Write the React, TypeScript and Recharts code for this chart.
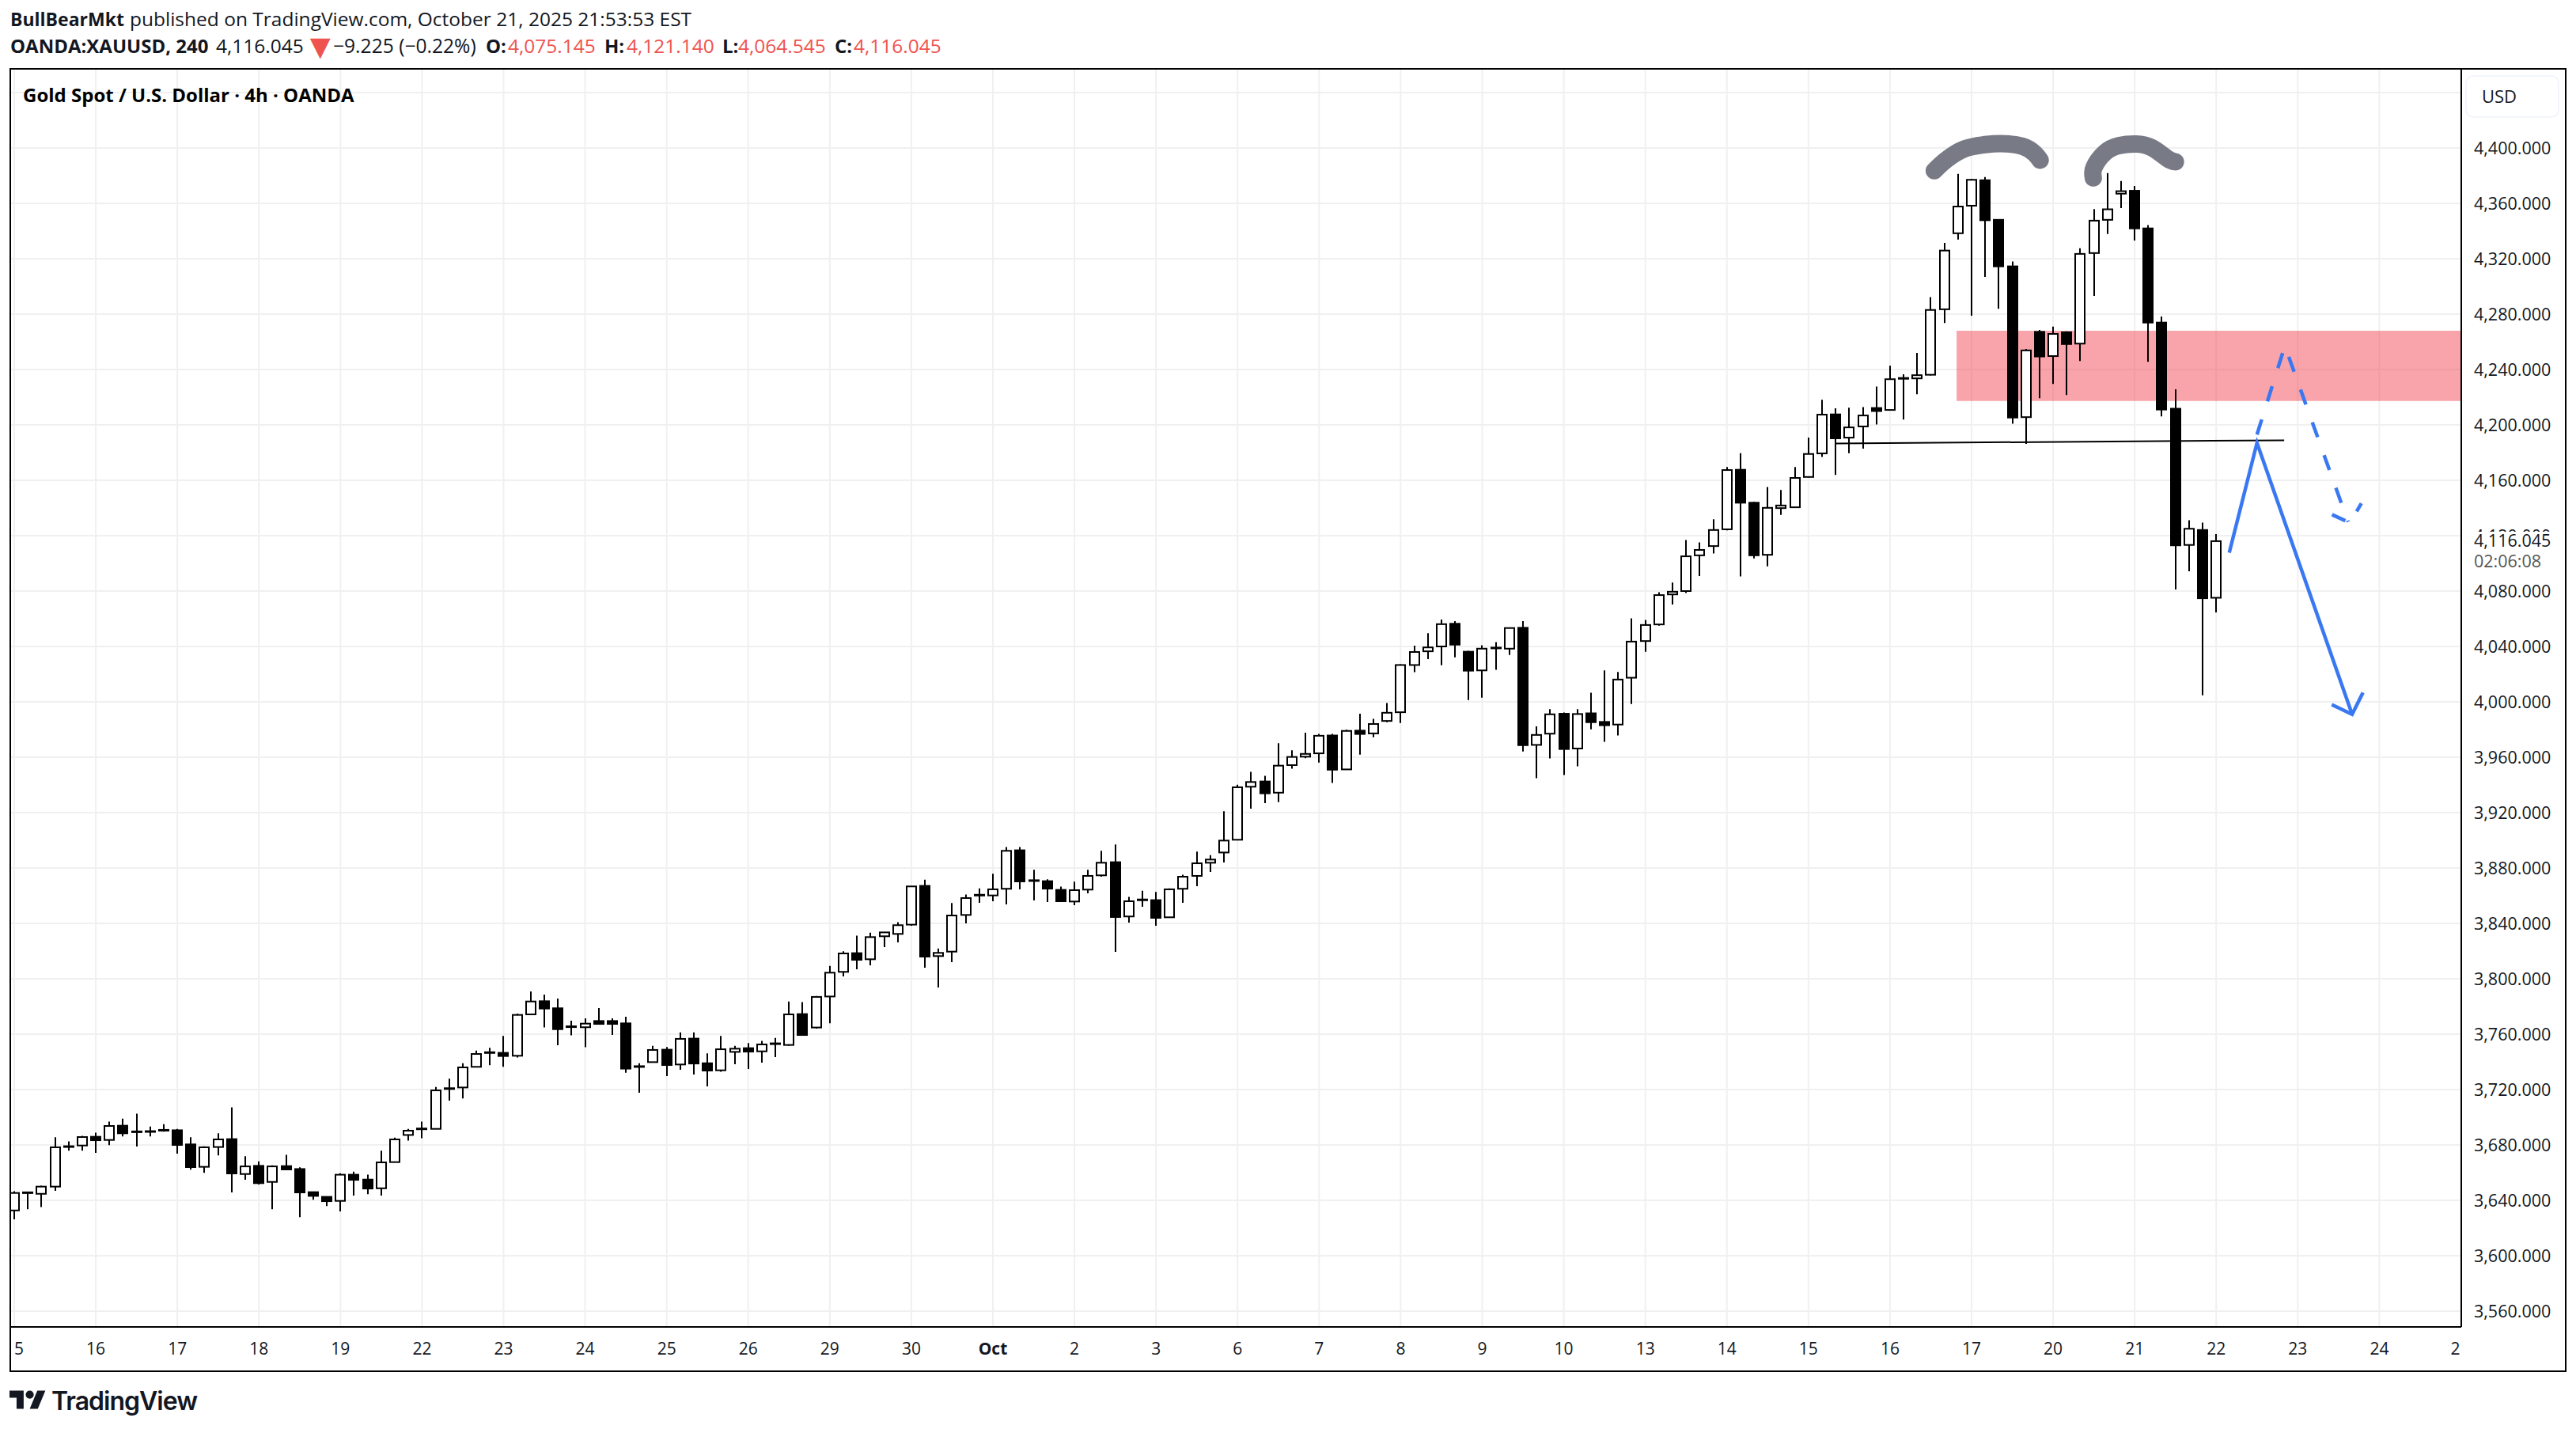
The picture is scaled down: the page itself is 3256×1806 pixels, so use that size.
import React from "react";
import {
  Bar,
  CartesianGrid,
  ComposedChart,
  Line,
  ReferenceArea,
  XAxis,
  YAxis,
} from "recharts";

const opens = [
  3632.7, 3645.5, 3644.7, 3649.9, 3678.8, 3679.6, 3685.9, 3683.6, 3693.9, 3689.5,
  3689.7, 3690.6, 3690.6, 3680.4, 3664.2, 3678.5, 3684.2, 3659, 3664.9, 3653.3,
  3664.7, 3662.6, 3645.9, 3642.5, 3639.6, 3658.5, 3655, 3648.7, 3667.6, 3687.2,
  3691.6, 3691.6, 3720.7, 3721.5, 3736.4, 3746.7, 3746.5, 3744.4, 3774.3, 3783.8,
  3778.7, 3765.4, 3765, 3769.5, 3769.5, 3767.8, 3736.6, 3739.8, 3748.8, 3738.1,
  3756.8, 3739, 3733.9, 3747.2, 3749.9, 3747.6, 3753.1, 3752.2, 3774.5, 3764.8,
  3787.2, 3805, 3818.5, 3814.1, 3830.7, 3832.4, 3839.1, 3867.1, 3816.4, 3819.6,
  3846.1, 3860.4, 3860.2, 3865, 3892.8, 3870.9, 3870.5, 3864.2, 3855.8, 3864.4,
  3874.7, 3884.2, 3845, 3857, 3856.8, 3844.4, 3865, 3874.3, 3883.8, 3891.2,
  3900.4, 3938.7, 3942.5, 3934.4, 3954.3, 3960.4, 3962.8, 3975.7, 3951.2, 3979.2,
  3977.2, 3986.2, 3992.5, 4026.6, 4036.5, 4040, 4056.4, 4036.2, 4022.7, 4038.9,
  4038.4, 4053.5, 3968.9, 3977, 3991.4, 3966.3, 3991.7, 3985.5, 3983.6, 4017.4,
  4043.9, 4055.9, 4077.6, 4080, 4105.8, 4112.5, 4124.6, 4167.6, 4143.8, 4106.2,
  4139.9, 4140.5, 4162.4, 4179.4, 4207.6, 4190.8, 4198.9, 4212.2, 4210.8, 4233.6,
  4233.6, 4236.2, 4283.5, 4338.4, 4358.3, 4376.7, 4348.1, 4314.5, 4205.6, 4267.2,
  4249.7, 4266.9, 4258.7, 4324.1, 4348.1, 4367, 4369.1, 4341.9, 4273.9, 4211.7,
  4113.3, 4124.1, 4075.145,
];

const highs = [
  3646.6, 3645.9, 3650.5, 3685.5, 3682.5, 3686.5, 3688.9, 3696.9, 3699, 3702.5,
  3693.3, 3695, 3691.6, 3685.5, 3679, 3688.4, 3707.2, 3671.8, 3668.2, 3665.3,
  3672.9, 3663.8, 3646.3, 3642.5, 3659.6, 3660.7, 3658.6, 3675.8, 3685.3, 3691.6,
  3696.9, 3721.9, 3727.8, 3739, 3748.2, 3750.1, 3758.7, 3774.9, 3790.9, 3788.6,
  3785.7, 3769.7, 3771.4, 3778.9, 3771.4, 3772.6, 3739, 3751.6, 3750.7, 3761.3,
  3761.3, 3746.1, 3758.7, 3751.6, 3753.5, 3755.2, 3757.3, 3783.6, 3783.2, 3787.6,
  3809.3, 3819.8, 3831.2, 3833.3, 3833.7, 3840.8, 3866.7, 3871.6, 3821.9, 3854.7,
  3860.8, 3865.3, 3875.8, 3895.1, 3895.1, 3878.7, 3871.8, 3866.5, 3870.1, 3878.7,
  3892.4, 3897, 3859.2, 3863.6, 3862.7, 3865.3, 3875.2, 3891.8, 3889.3, 3921,
  3940.2, 3949.4, 3946.5, 3970.2, 3965, 3977.7, 3976.8, 3976.8, 3979.8, 3991.4,
  3987.7, 3999.1, 4027.1, 4040.6, 4049.6, 4059.4, 4058.3, 4036.9, 4040.8, 4043.2,
  4053.3, 4058.3, 3982.3, 3994.7, 3992.3, 3994.7, 4006.5, 4022.7, 4021.6, 4060.3,
  4059.2, 4079.1, 4086.1, 4116.9, 4115.2, 4131.8, 4169.6, 4179.6, 4144.4, 4155.2,
  4153, 4169.6, 4190.8, 4218.1, 4212, 4212.4, 4212.9, 4227.7, 4242.7, 4236.5,
  4252, 4292.3, 4331.4, 4381.3, 4377.5, 4379, 4348.6, 4318, 4254.9, 4268.6,
  4271, 4267.5, 4327.6, 4355.9, 4381.9, 4376.1, 4372.6, 4344.3, 4278.3, 4225.7,
  4131.1, 4129.4, 4121.14,
];

const lows = [
  3626.3, 3633.5, 3635.2, 3646.8, 3675.8, 3675.8, 3674.3, 3679.8, 3686.1, 3678.8,
  3686.1, 3689.5, 3673.7, 3662.1, 3659.8, 3672.4, 3645.7, 3654.8, 3651.4, 3633.5,
  3662.3, 3627.8, 3640.4, 3635.8, 3632, 3643.4, 3644.4, 3643.4, 3667.6, 3683.2,
  3684.9, 3691.4, 3712, 3713.5, 3736.2, 3737.5, 3736.4, 3743.1, 3774.3, 3764.8,
  3752, 3759.1, 3750.5, 3767.1, 3759.4, 3732.2, 3717.7, 3739.6, 3729.7, 3734.3,
  3730.8, 3722.3, 3732.8, 3738.3, 3734.8, 3739.4, 3743.4, 3751.6, 3759.4, 3764,
  3767.8, 3801.7, 3806.9, 3809.7, 3822.9, 3826.3, 3838.3, 3808, 3793.7, 3812,
  3840, 3854.9, 3856, 3853.7, 3864.6, 3856.6, 3855.4, 3856, 3853.1, 3861.7,
  3873.7, 3819.4, 3840.6, 3852, 3838.3, 3844, 3854.9, 3866.9, 3877.2, 3884,
  3900, 3922.9, 3926.9, 3927.6, 3951.7, 3959.3, 3956.2, 3941.4, 3951.2, 3961.9,
  3974.4, 3985.3, 3984.7, 4021.4, 4030.8, 4026.4, 4032.1, 4001.3, 4003, 4023.1,
  4033.8, 3964.1, 3944.9, 3959.1, 3947.1, 3953.4, 3980.1, 3971.1, 3975.7, 3998.4,
  4036.2, 4055, 4070.3, 4078.6, 4090.9, 4107.1, 4123.9, 4090.5, 4103.6, 4097.9,
  4135, 4140.1, 4162.1, 4176.8, 4163.9, 4179.6, 4182.9, 4200.3, 4210.5, 4203.9,
  4222.2, 4235.7, 4273.6, 4333.8, 4278.9, 4306.9, 4283.8, 4200.9, 4186.3, 4219.3,
  4229.5, 4221.6, 4246.2, 4293.2, 4337.8, 4356.5, 4333.2, 4245.6, 4206.2, 4081.2,
  4094.3, 4004.7, 4064.545,
];

const closes = [
  3645.3, 3645.5, 3649.9, 3678.3, 3678.8, 3685.7, 3683.4, 3693.7, 3688.4, 3689.5,
  3689.7, 3690.6, 3680, 3664, 3678.3, 3684, 3659.4, 3664.5, 3652.4, 3664.5,
  3662.3, 3645.7, 3643.2, 3639.4, 3658.5, 3654.8, 3648.5, 3667.4, 3684, 3690.3,
  3690.3, 3719.4, 3719.4, 3736, 3745.7, 3746.7, 3744.2, 3773.9, 3783.6, 3778.5,
  3763.6, 3765.4, 3767.6, 3767.4, 3767.4, 3735.1, 3736.6, 3748.6, 3737.7, 3756.6,
  3738.8, 3733.7, 3749.1, 3749.5, 3747.4, 3752.6, 3753.1, 3774.3, 3759.4, 3786.9,
  3804.4, 3818.3, 3813.7, 3830.1, 3833.5, 3838.7, 3866.7, 3816, 3818.7, 3845.7,
  3858.3, 3860.4, 3864.6, 3892.4, 3870.3, 3870.9, 3865.1, 3856, 3864, 3874.3,
  3883.8, 3844.6, 3856, 3857, 3844, 3864.6, 3873.7, 3883.4, 3886.1, 3899.8,
  3938.3, 3942.1, 3933.9, 3953.9, 3960.2, 3962.4, 3975.5, 3951, 3979, 3976.8,
  3984, 3992.1, 4026.6, 4036, 4039.3, 4056.1, 4041.3, 4022.5, 4038.4, 4038.9,
  4053.3, 3968.7, 3976.1, 3991, 3965.9, 3991.2, 3985.3, 3983.1, 4016.1, 4043.5,
  4055.5, 4077.1, 4079.5, 4105.1, 4109.7, 4124.1, 4167.4, 4143.8, 4105.8, 4140.1,
  4141.8, 4161.7, 4179, 4207.4, 4190.3, 4198.2, 4206.8, 4210, 4233, 4233.6,
  4235.9, 4283, 4325.9, 4357.7, 4377, 4347.8, 4314.5, 4205.3, 4253.8, 4249.4,
  4265.7, 4258.4, 4323.5, 4347.5, 4355.7, 4368.8, 4341.9, 4273.9, 4211.1, 4113,
  4125, 4074.8, 4116.045,
];

// one label every 6 bars, the first and the last are cut by the frame
const dayLabels = [
  "5", "16", "17", "18", "19", "22", "23", "24", "25", "26", "29", "30", "Oct",
  "2", "3", "6", "7", "8", "9", "10", "13", "14", "15", "16", "17", "20", "21",
  "22", "23", "24", "2",
];
const dayTicks = dayLabels.map((_, n) => n * 6);

const priceTicks = [
  3560, 3600, 3640, 3680, 3720, 3760, 3800, 3840, 3880, 3920, 3960, 4000, 4040,
  4080, 4120, 4160, 4200, 4240, 4280, 4320, 4360, 4400, 4440,
];

const lastPrice = "4,116.045";
const countdown = "02:06:08";

// drawings, as bar index + price
const flatLine = [
  { i: 134, p: 4186.6 },
  { i: 167, p: 4188.9 },
];
const solidArrow = [
  { i: 162.96, p: 4107.7 },
  { i: 165, p: 4187 },
  { i: 172, p: 3991 },
];
const solidHead = [
  { i: 170.5, p: 3998 },
  { i: 172, p: 3991 },
  { i: 172.8, p: 4006.7 },
];
const dashedArrow = [
  { i: 165, p: 4193 },
  { i: 167.05, p: 4257 },
  { i: 171.7, p: 4130 },
];
const dashedHeadLeft = [
  { i: 170.52, p: 4135.2 },
  { i: 171.5, p: 4130.8 },
];
const dashedHeadRight = [
  { i: 172.33, p: 4137.5 },
  { i: 172.68, p: 4143.3 },
];
const leftTop = [
  { i: 141.26, p: 4383.6 },
  { i: 142.15, p: 4391.5 },
  { i: 143.5, p: 4399.4 },
  { i: 144.9, p: 4402.3 },
  { i: 146.15, p: 4403.2 },
  { i: 147.75, p: 4401.2 },
  { i: 148.65, p: 4395.9 },
  { i: 149.05, p: 4391.2 },
];
const rightTop = [
  { i: 152.96, p: 4378.4 },
  { i: 153, p: 4385.7 },
  { i: 153.8, p: 4396.5 },
  { i: 154.85, p: 4401.7 },
  { i: 156.1, p: 4402.9 },
  { i: 157.3, p: 4400 },
  { i: 158.4, p: 4392.4 },
  { i: 159, p: 4390 },
];

const candles = opens.map((open, i) => ({
  i,
  open,
  high: highs[i],
  low: lows[i],
  close: closes[i],
}));

const UI_FONT = '"Open Sans", sans-serif';
const BLUE = "#3a78f2";
const GREY = "#787b86";
const RED = "#ef5350";

const Candle = (props: any) => {
  const { x, y, width, height, payload } = props;
  const scale = height / (payload.high - payload.low);
  const cx = Math.round(x + width / 2);
  const top = y + (payload.high - Math.max(payload.open, payload.close)) * scale;
  const bottom = y + (payload.high - Math.min(payload.open, payload.close)) * scale;
  const left = cx - 7;
  const up = payload.close >= payload.open;
  return (
    <g>
      <line x1={cx} x2={cx} y1={y} y2={y + height} stroke="#000" strokeWidth={2} />
      {bottom - top < 3 ? (
        <rect x={left} y={top - 1.5} width={14} height={3} fill="#000" />
      ) : (
        <rect
          x={left + 1}
          y={top}
          width={12}
          height={bottom - top}
          fill={up ? "#fff" : "#000"}
          stroke="#000"
          strokeWidth={2}
        />
      )}
    </g>
  );
};

const DayTick = (props: any) => {
  const { x, payload, index } = props;
  const label = dayLabels[index ?? dayTicks.indexOf(payload.value)];
  const anchor = payload.value === 0 ? "start" : payload.value === 180 ? "end" : "middle";
  return (
    <text
      x={x + (payload.value === 180 ? -1 : 0)}
      y={1712}
      textAnchor={anchor}
      fontFamily={UI_FONT}
      fontSize={21}
      fontWeight={label === "Oct" ? 700 : 400}
      fill="#131722"
    >
      {label}
    </text>
  );
};

const PriceTick = (props: any) => {
  const { y, payload } = props;
  const v = payload.value;
  if (v === 4440) {
    return (
      <g>
        <rect x={3117} y={96} width={117} height={52} rx={9} fill="#fff" stroke="#f0f3fa" strokeWidth={1.5} />
        <text x={3137} y={130} fontFamily={UI_FONT} fontSize={22} fill="#131722">
          USD
        </text>
      </g>
    );
  }
  const text = v.toLocaleString("en-US", { minimumFractionDigits: 3 });
  return (
    <g>
      <text x={3127} y={y + 8.5} fontFamily={UI_FONT} fontSize={21.5} fill="#131722">
        {text}
      </text>
      {v === 4120 && (
        <g>
          <rect x={3114} y={672} width={126} height={51} fill="#fff" />
          <text x={3127} y={691} fontFamily={UI_FONT} fontSize={21.5} fill="#131722">
            {lastPrice}
          </text>
          <text x={3127} y={717} fontFamily={UI_FONT} fontSize={21.5} fill="#555">
            {countdown}
          </text>
        </g>
      )}
    </g>
  );
};

const Drawing = ({ data, ...rest }: any) => (
  <Line data={data} dataKey="p" dot={false} activeDot={false} isAnimationActive={false} {...rest} />
);

// header pieces: left edge, text, size, bold, colour
const headerTop = [
  { x: 13, t: "BullBearMkt", s: 23, b: true },
  { x: 164, t: "published on TradingView.com, October 21, 2025 21:53:53 EST", s: 24.5 },
];
const headerBottom = [
  { x: 13, t: "OANDA:XAUUSD, 240", s: 24, b: true },
  { x: 273, t: "4,116.045", s: 24.5 },
  { x: 383, t: "▼", s: 44, c: RED, dy: -1 },
  { x: 421, t: "−9.225 (−0.22%)", s: 24.6 },
  { x: 614, t: "O:", s: 24, b: true },
  { x: 642, t: "4,075.145", s: 24.5, c: RED },
  { x: 764, t: "H:", s: 24, b: true },
  { x: 792, t: "4,121.140", s: 24.5, c: RED },
  { x: 913, t: "L:", s: 24, b: true },
  { x: 933, t: "4,064.545", s: 24.5, c: RED },
  { x: 1055, t: "C:", s: 24, b: true },
  { x: 1079, t: "4,116.045", s: 24.5, c: RED },
];

const HeaderRow = ({ items, top }: any) => (
  <>
    {items.map((h: any) => (
      <div
        key={h.x}
        style={{
          position: "absolute",
          left: h.x,
          top: top + (h.dy ?? 0),
          height: 34,
          lineHeight: "34px",
          fontSize: h.s,
          fontWeight: h.b ? 700 : 400,
          color: h.c ?? "#131722",
          whiteSpace: "nowrap",
        }}
      >
        {h.t}
      </div>
    ))}
  </>
);

const App = () => {
  return (
    <div
      style={{
        position: "absolute",
        left: 0,
        top: 0,
        width: 3256,
        height: 1806,
        background: "#fff",
        overflow: "hidden",
        fontFamily: UI_FONT,
        color: "#131722",
      }}
    >
      <HeaderRow items={headerTop} top={7} />
      <HeaderRow items={headerBottom} top={41} />

      <ComposedChart
        width={3256}
        height={1806}
        data={candles}
        margin={{ top: 87, left: 13, right: 13, bottom: 73 }}
      >
        <CartesianGrid stroke="#f0f0f0" strokeWidth={2} />
        <ReferenceArea
          x1={142.9}
          x2={180.03}
          y1={4217.3}
          y2={4268}
          fill="#f23645"
          fillOpacity={0.45}
          stroke="none"
        />
        <XAxis
          dataKey="i"
          type="number"
          domain={[-0.29, 180.03]}
          ticks={dayTicks}
          interval={0}
          height={56}
          tick={<DayTick />}
          tickLine={false}
          axisLine={{ stroke: "#000", strokeWidth: 2 }}
          allowDataOverflow
        />
        <YAxis
          orientation="right"
          type="number"
          domain={[3548.57, 4457.14]}
          ticks={priceTicks}
          interval={0}
          width={132}
          tick={<PriceTick />}
          tickLine={false}
          axisLine={{ stroke: "#000", strokeWidth: 2 }}
          allowDataOverflow
        />
        <Bar
          dataKey={(d: any) => [d.low, d.high]}
          barSize={14}
          shape={<Candle />}
          isAnimationActive={false}
        />
        {Drawing({ data: flatLine, stroke: "#000", strokeWidth: 2 })}
        {Drawing({ data: leftTop, type: "natural", stroke: GREY, strokeWidth: 22, strokeLinecap: "round" })}
        {Drawing({ data: rightTop, type: "natural", stroke: GREY, strokeWidth: 22, strokeLinecap: "round" })}
        {Drawing({ data: solidArrow, stroke: BLUE, strokeWidth: 4.5 })}
        {Drawing({ data: solidHead, stroke: BLUE, strokeWidth: 4.5 })}
        {Drawing({ data: dashedArrow, stroke: BLUE, strokeWidth: 4.5, strokeDasharray: "20 24" })}
        {Drawing({ data: dashedHeadLeft, stroke: BLUE, strokeWidth: 4.5 })}
        {Drawing({ data: dashedHeadRight, stroke: BLUE, strokeWidth: 4.5 })}
      </ComposedChart>

      {/* frame round the pane and the axes */}
      <div
        style={{
          position: "absolute",
          left: 12,
          top: 86,
          width: 3232,
          height: 1648,
          boxSizing: "border-box",
          border: "2px solid #000",
          pointerEvents: "none",
        }}
      />
      <div
        style={{
          position: "absolute",
          left: 29,
          top: 103,
          fontSize: 24,
          fontWeight: 700,
          color: "#000",
          whiteSpace: "nowrap",
        }}
      >
        Gold Spot / U.S. Dollar · 4h · OANDA
      </div>

      <svg style={{ position: "absolute", left: 12, top: 1757 }} width={46} height={24} viewBox="0 0 36 18">
        <path d="M14 18H7V7H0V0h14v18zM28 18h-8l7.5-18h8L28 18z" fill="#131722" />
        <circle cx={20} cy={4} r={4} fill="#131722" />
      </svg>
      <div
        style={{
          position: "absolute",
          left: 65,
          top: 1751,
          fontSize: 32,
          fontWeight: 600,
          fontFamily: "Inter, sans-serif",
          letterSpacing: -1,
          whiteSpace: "nowrap",
        }}
      >
        TradingView
      </div>
    </div>
  );
};

export default App;
